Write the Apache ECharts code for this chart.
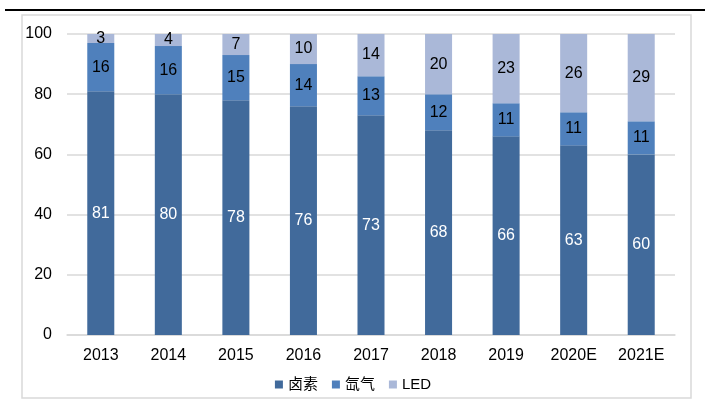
<!DOCTYPE html>
<html><head><meta charset="utf-8">
<script src="https://cdn.jsdelivr.net/npm/echarts@6/dist/echarts.min.js"></script>
<style>html,body{margin:0;padding:0;background:#fff;}#c{width:706px;height:400px;}</style>
</head><body><div id="c"></div>
<script>
var categories = ['2013','2014','2015','2016','2017','2018','2019','2020E','2021E'];
var halogen = [81,80,78,76,73,68,66,63,60];
var xenon = [16,16,15,14,13,12,11,11,11];
var led = [3,4,7,10,14,20,23,26,29];
var seriesNames = ['卤素','氙气','LED'];
var yTicks = [0,20,40,60,80,100];

var chart = echarts.init(document.getElementById('c'), null, {renderer:'canvas'});
var font = 'Liberation Sans, Arial, sans-serif';
function mk(name, data, color, labelColor){
  return {name:name, type:'bar', stack:'s', data:data, barWidth:'40%',
    itemStyle:{color:color},
    label:{show:true, position:'inside', color:labelColor, fontSize:16, fontFamily:font},
    emphasis:{disabled:true}};
}
chart.setOption({
  animation:false,
  graphic:[
    {type:'line', shape:{x1:5,y1:10,x2:705,y2:10}, style:{stroke:'#000', lineWidth:2}},
    {type:'rect', shape:{x:22,y:15,width:669,height:383}, style:{fill:'none', stroke:'#d9d9d9', lineWidth:1.5}}
  ],
  grid:{left:67, right:31, top:34, bottom:65},
  legend:{bottom:3, left:'center', itemWidth:8, itemHeight:8, itemGap:14, icon:'rect',
    textStyle:{fontSize:15, color:'#000', fontFamily:'Liberation Sans, Noto Sans CJK SC, sans-serif'},
    data:seriesNames},
  xAxis:{type:'category', data:categories,
    axisLine:{lineStyle:{color:'#d9d9d9', width:1.5}}, axisTick:{show:false},
    axisLabel:{color:'#000', fontSize:16, fontFamily:font, margin:13}},
  yAxis:{type:'value', min:0, max:100, interval:20,
    axisLine:{show:false}, axisTick:{show:false},
    splitLine:{lineStyle:{color:'#d9d9d9', width:1.5}},
    axisLabel:{color:'#000', fontSize:16, fontFamily:font, margin:15,
      formatter:function(v){return yTicks.indexOf(v)>=0?String(v):'';}}},
  series:[
    mk(seriesNames[0], halogen, '#416a9b', '#fff'),
    mk(seriesNames[1], xenon, '#4f80bc', '#000'),
    mk(seriesNames[2], led, '#aab8d8', '#000')
  ]
});
</script></body></html>
